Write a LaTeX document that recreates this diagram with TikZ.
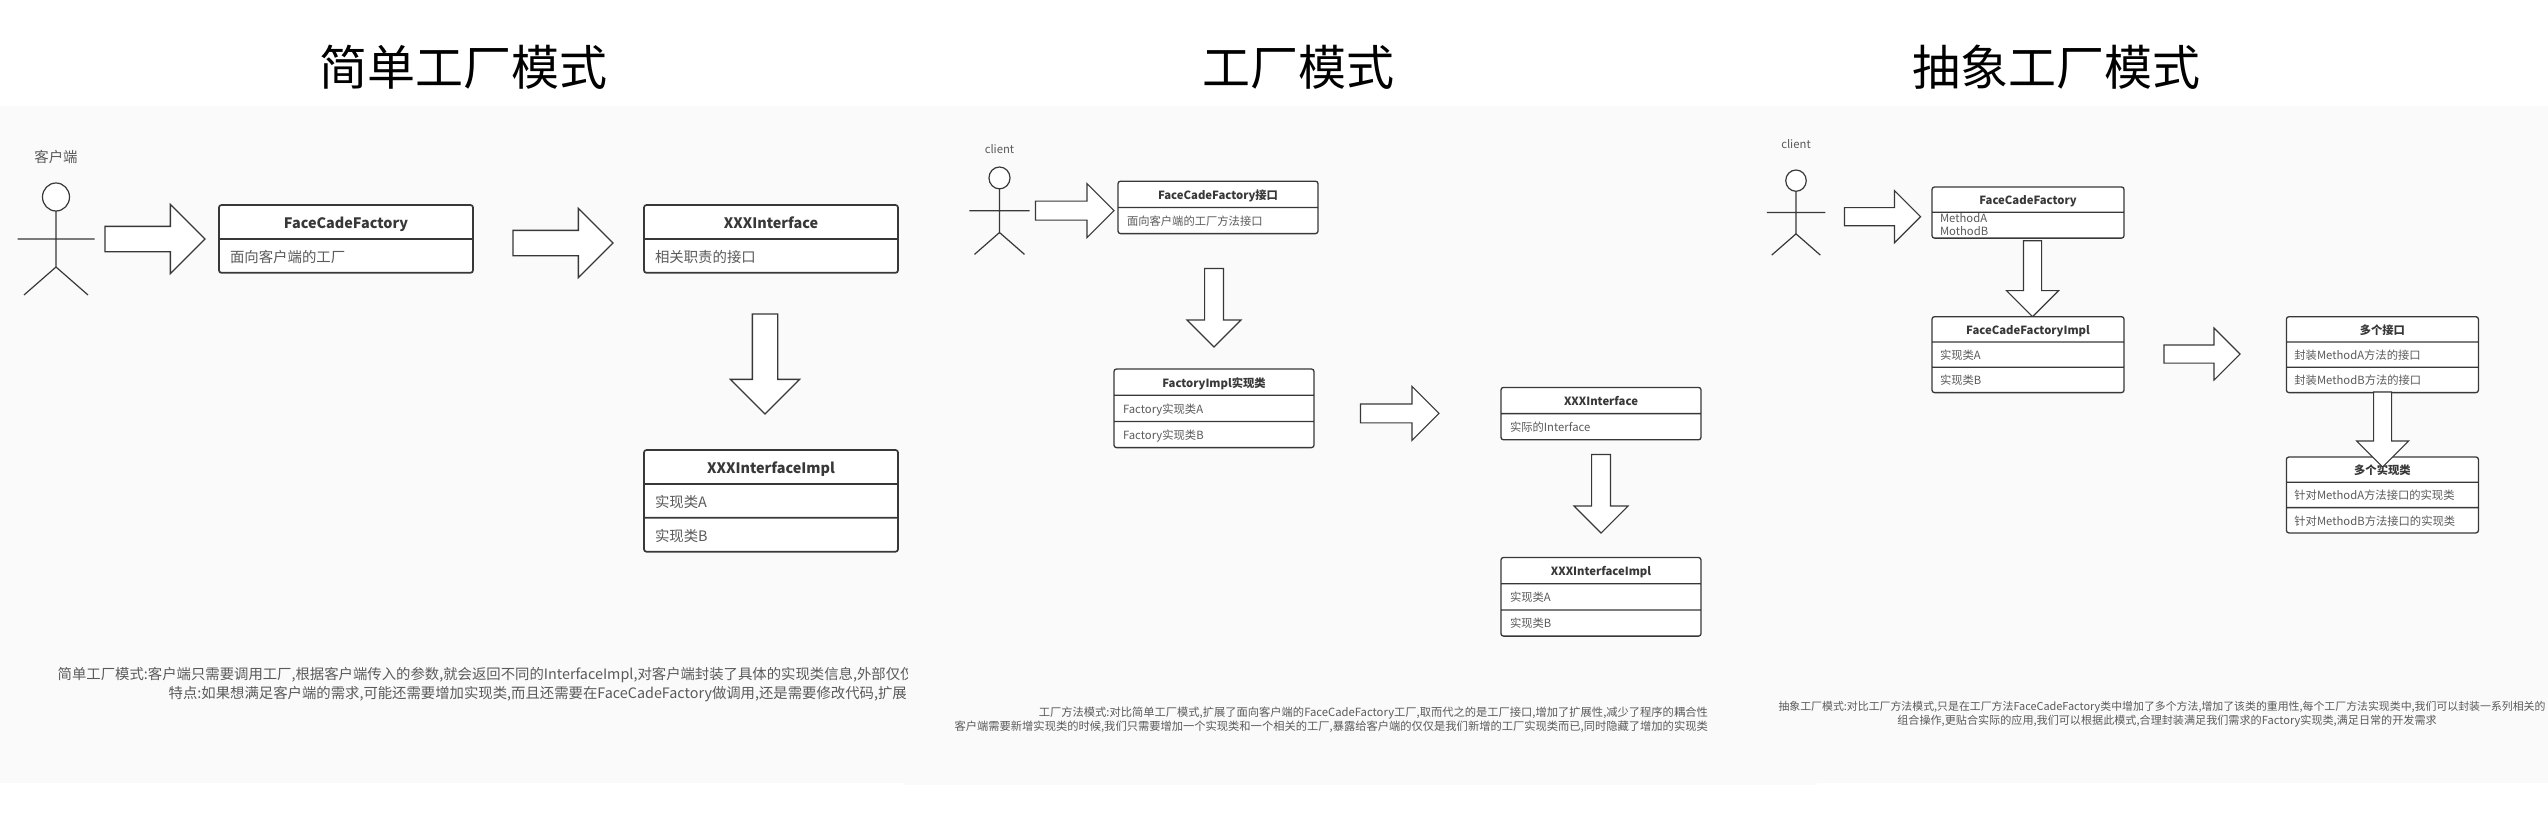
\documentclass[tikz,border=0pt]{standalone}
\usepackage{fontspec}
\setmainfont{Noto Sans CJK SC}
\usetikzlibrary{shapes.multipart,shapes.arrows}
\definecolor{linec}{HTML}{383838}
\definecolor{rowc}{HTML}{5A5A5A}
\definecolor{paperc}{HTML}{FAFAFA}
\newlength{\rowht}
\newcommand{\rowstrut}{\rule[-.30\rowht]{0pt}{\rowht}}
\newcommand{\hd}[1]{\makebox[\hsize][c]{\rowstrut\color{linec}\bfseries #1}}
\newcommand{\rw}[1]{\rowstrut #1}
\tikzset{
  classbox/.style={rectangle split,rectangle split draw splits=true,draw=linec,fill=white,
    line width=1.3pt,rounded corners=2.5pt,inner ysep=0pt,outer sep=0pt,anchor=north west,
    align=left,text=rowc},
  bigclass/.style={classbox,rectangle split parts=#1,text width=232pt,inner xsep=11pt,line width=1.7pt,
    font=\fontsize{14.4}{16}\selectfont,/utils/exec={\setlength{\rowht}{32.2pt}}},
  midclass/.style={classbox,rectangle split parts=#1,text width=182pt,inner xsep=9pt,
    font=\fontsize{11.3}{13}\selectfont,/utils/exec={\setlength{\rowht}{24.9pt}}},
  smallclass/.style={classbox,rectangle split parts=#1,text width=176pt,inner xsep=8pt,
    font=\fontsize{11.3}{13}\selectfont,/utils/exec={\setlength{\rowht}{24pt}}},
  blockarrow/.style={single arrow,draw=linec,fill=white,line width=1.1pt,
    outer sep=0pt,anchor=tip},
  bigarrow/.style={blockarrow,line width=1.3pt,inner sep=12pt,minimum height=100pt,minimum width=68pt,single arrow head extend=22pt},
  midarrow/.style={blockarrow,inner sep=8.9pt,minimum height=78.5pt,minimum width=53pt,single arrow head extend=17.6pt},
  smallarrow/.style={blockarrow,inner sep=8.5pt,minimum height=76pt,minimum width=51pt,single arrow head extend=17pt},
  goright/.style={shape border rotate=0},
  godown/.style={shape border rotate=270},
  headline/.style={font=\fontsize{48}{52}\selectfont,text=black,inner sep=0pt},
  actorname/.style={text=rowc,inner sep=0pt},
  note/.style={text=rowc,inner sep=0pt},
  actor/.pic={
    \draw[linec,line width=1.2pt,fill=white] (0,14) ellipse (13.5 and 14);
    \draw[linec,line width=1.2pt] (0,28) -- (0,84) (-38.5,56) -- (38.5,56)
      (-32,112) -- (0,84) -- (32,112);
  }
}
\begin{document}
\begin{tikzpicture}[x=1pt,y=-1pt]
\useasboundingbox (0,0) rectangle (2548,812);
\fill[paperc] (0,106) rectangle (2548,783);
\fill[paperc] (904,106) rectangle (1817,785);

% simple factory
\node[headline] (title1) at (463,67) {简单工厂模式};
\node[actorname,font=\fontsize{14.4}{16}\selectfont] (client1) at (56,157) {客户端};
\pic at (56,183) {actor};
\node[bigarrow,goright] (arrow1) at (205,239) {};
\node[bigclass=2] (factory1) at (219,205) {\hd{FaceCadeFactory}\nodepart{two}\rw{面向客户端的工厂}};
\node[bigarrow,goright] (arrow2) at (613,243) {};
\node[bigclass=2] (iface1) at (644,205) {\hd{XXXInterface}\nodepart{two}\rw{相关职责的接口}};
\node[bigarrow,godown] (arrow3) at (765,414) {};
\node[bigclass=3] (impl1) at (644,450) {\hd{XXXInterfaceImpl}\nodepart{two}\rw{实现类A}\nodepart{three}\rw{实现类B}};
\begin{scope}
\clip (0,640) rectangle (907,720);
\node[note,anchor=west,font=\fontsize{14.37}{16}\selectfont] (note1a) at (57.5,675) {简单工厂模式:客户端只需要调用工厂,根据客户端传入的参数,就会返回不同的InterfaceImpl,对客户端封装了具体的实现类信息,外部仅仅};
\node[note,anchor=east,font=\fontsize{14.37}{16}\selectfont] (note1b) at (907,694) {特点:如果想满足客户端的需求,可能还需要增加实现类,而且还需要在FaceCadeFactory做调用,还是需要修改代码,扩展};
\end{scope}

% factory method
\node[headline] (title2) at (1298,67) {工厂模式};
\node[actorname,font=\fontsize{11.3}{13}\selectfont] (client2) at (999.5,148.7) {client};
\pic[scale=.78] at (999.5,167) {actor};
\node[midarrow,goright] (arrow4) at (1114,210.6) {};
\node[midclass=2] (factory2) at (1118,181.2) {\hd{FaceCadeFactory接口}\nodepart{two}\rw{面向客户端的工厂方法接口}};
\node[midarrow,godown] (arrow5) at (1214,347) {};
\node[midclass=3] (impl2) at (1114,369) {\hd{FactoryImpl实现类}\nodepart{two}\rw{Factory实现类A}\nodepart{three}\rw{Factory实现类B}};
\node[midarrow,goright] (arrow6) at (1439,413.4) {};
\node[midclass=2] (iface2) at (1501,387.4) {\hd{XXXInterface}\nodepart{two}\rw{实际的Interface}};
\node[midarrow,godown] (arrow7) at (1601,533) {};
\node[midclass=3] (impl3) at (1501,557.5) {\hd{XXXInterfaceImpl}\nodepart{two}\rw{实现类A}\nodepart{three}\rw{实现类B}};
\node[note,anchor=east,font=\fontsize{11.27}{13}\selectfont] (note2a) at (1708,712.7) {工厂方法模式:对比简单工厂模式,扩展了面向客户端的FaceCadeFactory工厂,取而代之的是工厂接口,增加了扩展性,减少了程序的耦合性};
\node[note,anchor=east,font=\fontsize{11.27}{13}\selectfont] (note2b) at (1708,726.7) {客户端需要新增实现类的时候,我们只需要增加一个实现类和一个相关的工厂,暴露给客户端的仅仅是我们新增的工厂实现类而已,同时隐藏了增加的实现类};

% abstract factory
\node[headline] (title3) at (2056.5,67) {抽象工厂模式};
\node[actorname,font=\fontsize{11.3}{13}\selectfont] (client3) at (1796,144) {client};
\pic[scale=.76] at (1796,170) {actor};
\node[smallarrow,goright] (arrow8) at (1920.5,216.7) {};
\node[smallclass=2] (factory3) at (1932,187) {\hd{FaceCadeFactory}\nodepart{two}\rule[-3.2pt]{0pt}{13.2pt}MethodA\\\rule[-1.5pt]{0pt}{11pt}MothodB};
\node[smallarrow,godown,minimum width=50pt] (arrow9) at (2032.5,316.7) {};
\node[smallclass=3] (impl4) at (1932,316.7) {\hd{FaceCadeFactoryImpl}\nodepart{two}\rw{实现类A}\nodepart{three}\rw{实现类B}};
\node[smallarrow,goright] (arrow10) at (2240,354) {};
\node[smallclass=3] (iface3) at (2286.4,316.7) {\hd{多个接口}\nodepart{two}\rw{封装MethodA方法的接口}\nodepart{three}\rw{封装MethodB方法的接口}};
\node[smallclass=3] (impl5) at (2286.4,457) {\hd{多个实现类}\nodepart{two}\rw{针对MethodA方法接口的实现类}\nodepart{three}\rw{针对MethodB方法接口的实现类}};
\node[smallarrow,godown,minimum height=75pt] (arrow11) at (2382.6,467) {};
\node[note,font=\fontsize{10.9}{13}\selectfont] (note3a) at (2162,707) {抽象工厂模式:对比工厂方法模式,只是在工厂方法FaceCadeFactory类中增加了多个方法,增加了该类的重用性,每个工厂方法实现类中,我们可以封装一系列相关的};
\node[note,font=\fontsize{11.1}{13}\selectfont] (note3b) at (2167,720.7) {组合操作,更贴合实际的应用,我们可以根据此模式,合理封装满足我们需求的Factory实现类,满足日常的开发需求};
\end{tikzpicture}
\end{document}
